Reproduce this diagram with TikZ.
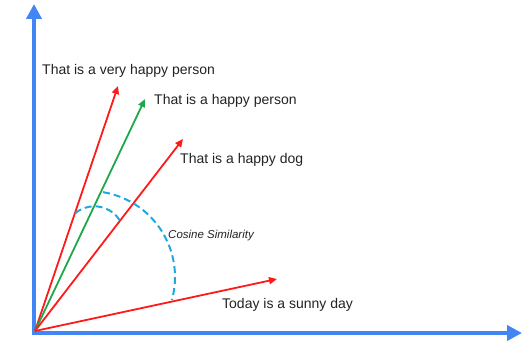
\documentclass[tikz,border=0pt]{standalone}
\usepackage{fontspec}
\setmainfont{Liberation Sans}
\usetikzlibrary{arrows.meta, positioning, calc}
\definecolor{axisBlue}{HTML}{4285F4}
\definecolor{vecRed}{HTML}{FF1A1A}
\definecolor{vecGreen}{HTML}{1DA84A}
\definecolor{arcCyan}{HTML}{1FA9E1}
\definecolor{txtDark}{HTML}{222222}

\begin{document}
\begin{tikzpicture}[
  x=1pt, y=1pt,
  axis/.style={-{Triangle[length=15pt, width=15pt]}, line width=4pt, draw=axisBlue},
  vec/.style={-{Triangle[length=8pt, width=7pt]}, line width=1.8pt, draw=vecRed},
  simvec/.style={vec, draw=vecGreen},
  label/.style={anchor=west, inner sep=0pt, text=txtDark, font=\fontsize{14}{16}\selectfont},
  simarc/.style={draw=arcCyan, line width=2pt, dash pattern=on 7pt off 4pt}
]
\useasboundingbox (0,0) rectangle (523,346);

% axes
\coordinate (O) at (35,15);
\coordinate (ytop) at (34,342);
\coordinate (xend) at (522,13);
\draw[axis] (34,11) -- (ytop);
\draw[axis] (32,13) -- (xend);

% sentence vectors
\coordinate (vhp) at (118,260);
\coordinate (hp) at (145,247);
\coordinate (hd) at (183,207);
\coordinate (sd) at (277,67);
\draw[vec] (O) -- (vhp);
\draw[simvec] (O) -- (hp);
\draw[vec] (O) -- (hd);
\draw[vec] (O) -- (sd);

\node[label] (vhpl) at (42,275) {That is a very happy person};
\node[label] (hpl) at (154,245) {That is a happy person};
\node[label] (hdl) at (180,186) {That is a happy dog};
\node[label] (sdl) at (222,41) {Today is a sunny day};

% angles
\coordinate (bigc) at (89,69);
\coordinate (smallc) at (94.4,109.7);
\draw[simarc] ($(bigc)+(80.6:86)$) arc[start angle=80.6, end angle=-15.5, radius=86];
\draw[simarc] ($(smallc)+(129.8:30)$) arc[start angle=129.8, end angle=32.5, radius=30];
\node[anchor=west, inner sep=0pt, text=txtDark, font=\fontsize{11.5}{13}\selectfont\itshape] (cos) at (168,110) {Cosine Similarity};
\end{tikzpicture}
\end{document}
